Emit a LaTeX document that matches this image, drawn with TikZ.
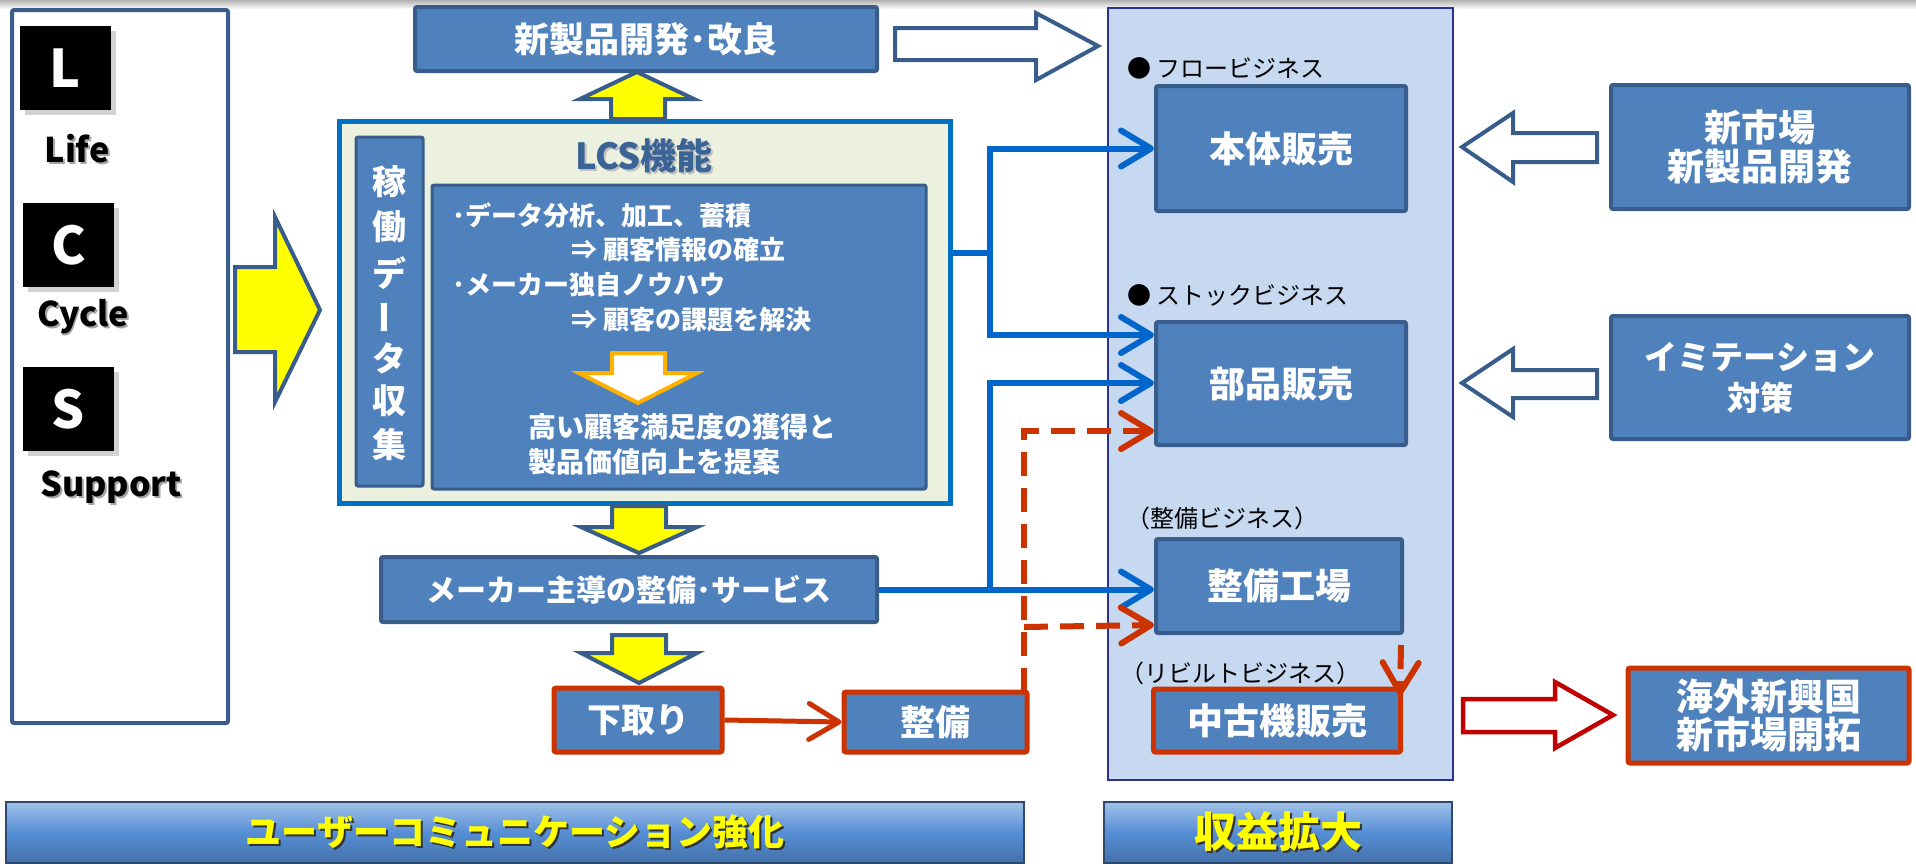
\documentclass[tikz,border=0pt]{standalone}
\usepackage{fontspec}
\setmainfont{Noto Sans CJK JP}
\usetikzlibrary{arrows.meta,calc,shadows}
\definecolor{boxfill}{HTML}{4F81BD}
\definecolor{boxline}{HTML}{385D8A}
\definecolor{lcsline}{HTML}{0070C0}
\definecolor{lcsfill}{HTML}{EBF1DE}
\definecolor{palefill}{HTML}{C6D9F1}
\definecolor{paleline}{HTML}{2E3192}
\definecolor{conblue}{HTML}{0066CC}
\definecolor{conred}{HTML}{CC3300}
\definecolor{hollowred}{HTML}{C00000}
\definecolor{orangeC}{HTML}{FFB000}
\definecolor{titleblue}{HTML}{3B6496}
\definecolor{yel}{HTML}{FFFF00}
\definecolor{banfill}{HTML}{558ED5}
\newcommand\shtxt[2]{\makebox[0pt][l]{\hspace*{2pt}\raisebox{-2pt}{\textcolor{#1}{#2}}}#2}
\newcommand\setfs[1]{\fontsize{#1}{#1}\selectfont}
\tikzset{
  box/.style={draw=boxline, fill=boxfill, line width=4pt, rounded corners=2pt, text=white,
    font=\bfseries\setfs{36}, align=center, inner sep=0pt},
  redbox/.style={box, draw=conred, line width=5pt},
  sq/.style={fill=black, text=white, minimum width=91pt, minimum height=84pt, inner sep=0pt,
    font=\bfseries\setfs{52}, drop shadow={shadow xshift=5pt, shadow yshift=-5pt, opacity=0.35}},
  lbl/.style={font=\bfseries\setfs{34}, text=black, inner sep=0pt},
  itxt/.style={text=white, font=\bfseries\setfs{26}, anchor=west, inner sep=0pt},
  vtxt/.style={text=white, font=\bfseries\setfs{34}, inner sep=0pt},
  biz/.style={text=black, font=\setfs{24}, anchor=west, inner sep=0pt},
  yarrow/.style={fill=yel, draw=boxline, line width=4pt, line join=miter},
  harrow/.style={fill=white, draw=boxline, line width=4pt, line join=miter},
  rharrow/.style={fill=white, draw=hollowred, line width=4.5pt, line join=miter},
  barb/.style={-{Straight Barb[length=30pt,width=36pt,round]}},
  blueline/.style={draw=conblue, line width=6pt},
  redline/.style={draw=conred, line width=6pt, dash pattern=on 24pt off 12pt},
  banner/.style={draw=boxline!80!black, line width=1.5pt, top color=banfill!55!white,
    bottom color=banfill!80!black, middle color=banfill, inner sep=0pt,
    text=yel, font=\bfseries\setfs{36}},
}
\begin{document}
\begin{tikzpicture}[x=1pt,y=-1pt]
\useasboundingbox (0,0) rectangle (1916,863);
\shade[top color=black!30, bottom color=white] (0,0) rectangle (1916,9);

% ---------- left LCS column ----------
\node[draw=boxline, line width=4pt, fill=white, rounded corners=2pt, minimum width=216pt,
  minimum height=713pt, inner sep=0pt] (leftbox) at (120,366.5) {};
\node[sq] (Lsq) at (65.5,68) {L};
\node[sq] (Csq) at (68.5,245) {C};
\node[sq] (Ssq) at (68.5,409) {S};
\node[lbl] (life) at (77,150) {\shtxt{black!35}{Life}};
\node[lbl] (cycle) at (83,318) {\shtxt{black!35}{Cycle}};
\node[lbl] (support) at (111,488) {\shtxt{black!35}{Support}};

% big yellow arrow
\draw[yarrow] (235,267) -- (275,267) -- (275,217) -- (320,310) -- (275,402) -- (275,352) -- (235,352) -- cycle;

% ---------- LCS function block ----------
\node[draw=lcsline, fill=lcsfill, line width=5pt, minimum width=611pt, minimum height=382pt,
  inner sep=0pt] (lcs) at (644.5,312) {};
\node[box, line width=3pt, minimum width=67pt, minimum height=349pt] (vbox) at (389.5,311.5) {};
\node[vtxt] (v1) at (389.5,182) {稼};
\node[vtxt] (v2) at (389.5,227) {働};
\node[vtxt] (v3) at (389.5,273) {デ};
\node[vtxt, rotate=90] (v4) at (389.5,317) {ー};
\node[vtxt] (v5) at (389.5,358) {タ};
\node[vtxt] (v6) at (389.5,401) {収};
\node[vtxt] (v7) at (389.5,445) {集};
\node[box, line width=3pt, minimum width=494pt, minimum height=304pt] (inner) at (679,337) {};
\node[text=titleblue, font=\bfseries\setfs{36}, inner sep=0pt] (title) at (644,157) {\shtxt{black!25}{LCS機能}};
\node[itxt] (t1) at (452,215) {･データ分析、加工、蓄積};
\node[itxt] (t2) at (571,250) {⇒ 顧客情報の確立};
\node[itxt] (t3) at (452,285) {･メーカー独自ノウハウ};
\node[itxt] (t4) at (571,320) {⇒ 顧客の課題を解決};
\draw[fill=white, draw=orangeC, line width=4pt, line join=miter]
  (612,353) -- (665,353) -- (665,373) -- (697,373) -- (638,403) -- (579,373) -- (612,373) -- cycle;
\node[itxt, font=\bfseries\setfs{28}] (t5) at (528,427) {高い顧客満足度の獲得と};
\node[itxt, font=\bfseries\setfs{28}] (t6) at (528,462) {製品価値向上を提案};

% ---------- top ----------
\node[box, font=\bfseries\setfs{35}, minimum width=462pt, minimum height=64pt] (newprod) at (646,39) {新製品開発･改良};
\draw[yarrow] (611,119) -- (611,99) -- (580,99) -- (637,72) -- (694,99) -- (665,99) -- (665,119) -- cycle;
\draw[harrow] (895,28) -- (1036,28) -- (1036,13) -- (1098,46) -- (1036,80) -- (1036,60) -- (895,60) -- cycle;

% ---------- lower left chain ----------
\draw[yarrow] (612,506) -- (666,506) -- (666,527) -- (697,527) -- (639,553) -- (581,527) -- (612,527) -- cycle;
\node[box, font=\bfseries\setfs{30}, minimum width=496pt, minimum height=65pt] (maker) at (629,589.5) {メーカー主導の整備･サービス};
\draw[yarrow] (612,635) -- (666,635) -- (666,653) -- (697,653) -- (639,683) -- (581,653) -- (612,653) -- cycle;
\node[redbox, font=\bfseries\setfs{34}, minimum width=168pt, minimum height=64pt] (shitadori) at (638,720) {下取り};
\node[redbox, font=\bfseries\setfs{35}, minimum width=183pt, minimum height=60pt] (seibi) at (935.5,722) {整備};
\draw[draw=conred, line width=5pt, barb] (shitadori.east) -- (seibi.west);

% ---------- revenue column ----------
\node[draw=paleline, line width=1.5pt, fill=palefill, minimum width=345pt, minimum height=772pt,
  inner sep=0pt] (pale) at (1280.5,394) {};
\node[biz] (flow) at (1127,68) {● フロービジネス};
\node[box, minimum width=250pt, minimum height=125pt] (honsha) at (1281,148.5) {本体販売};
\node[biz] (stock) at (1127,295) {● ストックビジネス};
\node[box, minimum width=250pt, minimum height=123pt] (buhin) at (1281,383.5) {部品販売};
\node[biz] (seibiz) at (1126,518) {（整備ビジネス）};
\node[box, minimum width=246pt, minimum height=94pt] (kojo) at (1279,586) {整備工場};
\node[biz] (rebuilt) at (1120,673) {（リビルトビジネス）};
\node[redbox, minimum width=247pt, minimum height=63pt] (chuko) at (1277,720.5) {中古機販売};

% ---------- connectors ----------
\coordinate (j1) at (990,253);
\draw[blueline] (lcs.east |- j1) -- (j1);
\draw[blueline, barb] (j1) |- (honsha.west);
\draw[blueline, barb] (j1) |- (buhin.west |- 0,335);
\draw[blueline, barb] (maker.east) -- (kojo.west |- maker.east);
\coordinate (j2) at (990,589.5);
\draw[blueline, barb] (j2) |- (buhin.west |- 0,383);
\coordinate (r0) at (1024,692);
\coordinate (r1) at (1024,627);
\draw[redline, barb] (r0) |- (buhin.west |- 0,431);
\draw[redline, barb] (r1) -- (kojo.west |- 0,625);
\draw[redline, barb] ($(kojo.south east)+(-3,10)$) -- ($(chuko.north east)+(-3,9)$);

% ---------- right side ----------
\node[box, font=\bfseries\setfs{37}, minimum width=298pt, minimum height=124pt] (newmkt) at (1760,147) {新市場\\[2pt]新製品開発};
\node[box, font=\bfseries\setfs{33}, minimum width=298pt, minimum height=123pt] (imit) at (1760,377.5) {イミテーション\\[8pt]対策};
\draw[harrow] (1597,133) -- (1513,133) -- (1513,113) -- (1462,147) -- (1513,182) -- (1513,162) -- (1597,162) -- cycle;
\draw[harrow] (1597,370) -- (1513,370) -- (1513,349) -- (1462,383) -- (1513,417) -- (1513,398) -- (1597,398) -- cycle;
\node[redbox, font=\bfseries\setfs{37}, minimum width=281pt, minimum height=95pt] (kaigai) at (1768.5,715.5) {海外新興国\\[1pt]新市場開拓};
\draw[rharrow] (1463,699) -- (1555,699) -- (1555,682) -- (1613,715) -- (1555,748) -- (1555,732) -- (1463,732) -- cycle;

% ---------- bottom banners ----------
\node[banner, minimum width=1018pt, minimum height=61pt] (ban1) at (515,832.5) {\shtxt{black!80}{ユーザーコミュニケーション強化}};
\node[banner, font=\bfseries\setfs{42}, minimum width=348pt, minimum height=61pt] (ban2) at (1278,832.5) {\shtxt{black!80}{収益拡大}};
\end{tikzpicture}
\end{document}
